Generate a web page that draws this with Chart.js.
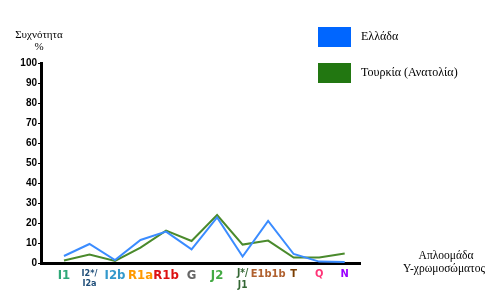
<!DOCTYPE html>
<html>
<head>
<meta charset="utf-8">
<script src="https://cdn.jsdelivr.net/npm/chart.js@4/dist/chart.umd.min.js"></script>
<style>
html,body{margin:0;padding:0;background:#fff;}
#wrap{width:498px;height:293px;position:relative;}
</style>
</head>
<body>
<div id="wrap"><canvas id="c" width="498" height="293"></canvas></div>
<script>
const categories = [["I1"], ["I2*/", "I2a"], ["I2b"], ["R1a"], ["R1b"], ["G"], ["J2"], ["J*/", "J1"], ["E1b1b"], ["T"], ["Q"], ["N"]];
const greece = [3.5, 9.5, 1.5, 11.5, 15.7, 6.8, 22.8, 3.2, 21, 4.5, 0.7, 0.5];
const turkey = [1.3, 4.2, 1.0, 7.7, 16.2, 11, 24, 9.2, 11.2, 2.7, 2.8, 4.7];
const yTicks = [0, 10, 20, 30, 40, 50, 60, 70, 80, 90, 100];
const seriesNames = ["Ελλάδα", "Τουρκία (Ανατολία)"];
const yTitle = ["Συχνότητα", "%"];
const xTitle = ["Απλοομάδα", "Y-χρωμοσώματος"];

const labelColors = ["#2fa878", "#1f4e79", "#3399cc", "#ff9900", "#dd1111", "#666666", "#44aa44", "#336633", "#b0602e", "#7a3d00", "#ff3377", "#9900ff"];
const labelSizes = [13, 9, 13, 13, 13, 13, 13, 10, 11, 11, 11, 11];

const toPts = arr => arr.map((v, i) => ({x: i, y: v}));

const extras = {
  id: 'extras',
  afterDraw(chart) {
    const ctx = chart.ctx;
    ctx.save();
    ctx.fillStyle = '#000';
    ctx.textAlign = 'center';
    ctx.textBaseline = 'middle';
    ctx.font = '11px "Liberation Serif", serif';
    ctx.fillText(yTitle[0], 39, 35);
    ctx.fillText(yTitle[1], 39, 47);
    ctx.font = '11.5px "Liberation Serif", serif';
    ctx.fillText(xTitle[0], 446, 256);
    ctx.fillText(xTitle[1], 444, 269);
    chart.data.datasets.forEach((ds, i) => {
      const y0 = 27 + i * 36;
      ctx.fillStyle = ds.legendColor;
      ctx.fillRect(318, y0, 33, 20);
      ctx.fillStyle = '#000';
      ctx.textAlign = 'left';
      ctx.font = '12px "Liberation Serif", serif';
      ctx.fillText(ds.label, 361, y0 + 10);
    });
    ctx.restore();
  }
};

new Chart(document.getElementById('c'), {
  type: 'line',
  data: {
    datasets: [
      {label: seriesNames[0], data: toPts(greece), borderColor: '#3b8cff', legendColor: '#0066ff', borderWidth: 2, pointRadius: 0, tension: 0, fill: false},
      {label: seriesNames[1], data: toPts(turkey), borderColor: '#4a8a2c', legendColor: '#227711', borderWidth: 2, pointRadius: 0, tension: 0, fill: false}
    ]
  },
  options: {
    responsive: false,
    animation: false,
    layout: {padding: {top: 63, right: 138, left: 0, bottom: 0}},
    plugins: {legend: {display: false}, tooltip: {enabled: false}},
    scales: {
      x: {
        type: 'linear',
        min: -0.9,
        max: 11.6,
        afterBuildTicks: s => { s.ticks = categories.map((_, i) => ({value: i})); },
        afterFit: s => { s.height = 30; },
        grid: {display: false, drawTicks: false},
        border: {display: true, color: '#000', width: 3},
        ticks: {
          autoSkip: false,
          maxRotation: 0,
          padding: 5,
          callback: (v) => categories[v],
          color: c => labelColors[c.index],
          font: c => ({family: '"DejaVu Sans Condensed", "DejaVu Sans", sans-serif', size: labelSizes[c.index], weight: 'bold', lineHeight: 1.15})
        }
      },
      y: {
        min: 0,
        max: 100,
        afterBuildTicks: s => { s.ticks = yTicks.map(v => ({value: v})); },
        afterFit: s => { s.width = 41; },
        grid: {display: true, drawOnChartArea: false, drawTicks: true, tickLength: 3, color: '#000'},
        border: {display: true, color: '#000', width: 3},
        ticks: {
          padding: 1,
          color: '#000',
          font: {family: '"Liberation Sans Narrow", "Liberation Sans", sans-serif', size: 10, weight: 'bold'}
        }
      }
    }
  },
  plugins: [extras]
});
</script>
</body>
</html>
